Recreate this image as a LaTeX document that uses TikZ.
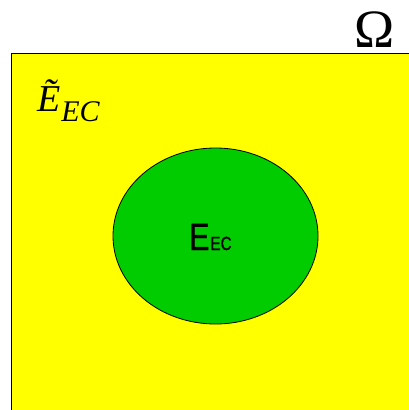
\documentclass[tikz,border=0pt]{standalone}
\usepackage{fontspec}
\setmainfont{Liberation Serif}
\newfontfamily\labelsans[FakeStretch=0.8,FakeBold=1]{Liberation Sans}
\usetikzlibrary{shapes.geometric}

\begin{document}
\begin{tikzpicture}[
    x=1pt, y=-1pt,
    region/.style={draw=black, line width=0.8pt},
    setlabel/.style={inner sep=0pt, anchor=base west}
]
\useasboundingbox (0,0) rectangle (409,410);
% universe
\fill[white] (0,0) rectangle (409,410);
\path[region, fill={rgb,255:red,255;green,255;blue,0}] (11,53) rectangle (420,420);
\node[setlabel, font=\fontsize{54}{54}\selectfont] (omega) at (354,47) {Ω};
\node[setlabel, font=\fontsize{38}{38}\selectfont\itshape] (complement) at (37,111)
    {\~E\kern1pt\raisebox{-10pt}{\fontsize{30}{30}\selectfont EC}};
% event set
\node[region, ellipse, fill={rgb,255:red,0;green,204;blue,0}, minimum width=205pt, minimum height=176pt, inner sep=0pt] (event) at (215.5,236) {};
\node[setlabel, font=\labelsans\fontsize{38}{38}\selectfont] (eventlabel) at (189,250) {E\kern1pt{\fontsize{19}{19}\selectfont EC}};
\end{tikzpicture}
\end{document}
